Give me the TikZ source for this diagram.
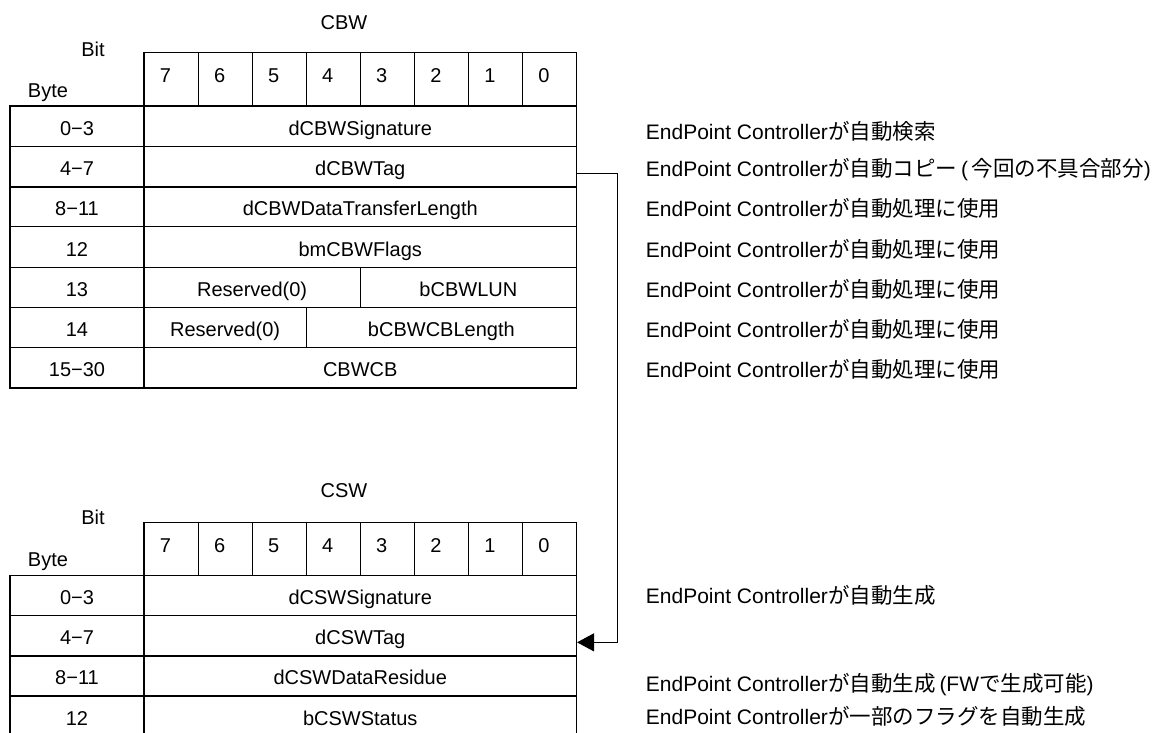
\documentclass[tikz,border=0pt]{standalone}
\usepackage{fontspec}
\setmainfont{Liberation Sans}
\newfontfamily\jpfont{Noto Sans CJK JP}
\newcommand\JPtxt[1]{{\jpfont\fontsize{21.5}{24}\selectfont #1}}
\usetikzlibrary{arrows.meta}
\begin{document}
\begin{tikzpicture}[x=1pt,y=-1pt,
  tcell/.style={draw, line width=1.1pt, inner sep=0pt, font=\fontsize{20}{24}\selectfont, text height=18pt, text depth=0pt},
  ttext/.style={inner sep=0pt, font=\fontsize{20}{24}\selectfont, text height=18pt, text depth=0pt},
  lbl/.style={anchor=west, inner sep=0pt, font=\fontsize{21}{24}\selectfont, text height=18pt, text depth=0pt},
  conn/.style={line width=1.1pt, -{Triangle[length=17pt,width=18pt]}},
  thickrule/.style={line width=2pt}]
\useasboundingbox (0,0) rectangle (1157,733);

% ---------------- CBW ----------------
\node[ttext] (cbwtitle) at (344,20.7) {CBW};
\node[ttext] (cbwbit) at (93,47.5) {Bit};
\node[ttext] (cbwbyte) at (48,88.2) {Byte};
\foreach \i/\n in {0/7,1/6,2/5,3/4,4/3,5/2,6/1,7/0}{
  \node[tcell, minimum width=54.0625pt, minimum height=53.3pt] (cbwh\i) at ({144+54.0625*(\i+0.5)},79.35) {};
  \node[ttext] (cbwn\i) at ({165.5+54.0625*\i},73.7) {\n};
}
% rows
\node[tcell, minimum width=134pt, minimum height=40.29pt] (cb0) at (77,126.14) {0−3};
\node[tcell, minimum width=432.5pt, minimum height=40.29pt] (cf0) at (360.25,126.14) {dCBWSignature};
\node[tcell, minimum width=134pt, minimum height=40.29pt] (cb1) at (77,166.43) {4−7};
\node[tcell, minimum width=432.5pt, minimum height=40.29pt] (cf1) at (360.25,166.43) {dCBWTag};
\node[tcell, minimum width=134pt, minimum height=40.29pt] (cb2) at (77,206.71) {8−11};
\node[tcell, minimum width=432.5pt, minimum height=40.29pt] (cf2) at (360.25,206.71) {dCBWDataTransferLength};
\node[tcell, minimum width=134pt, minimum height=40.29pt] (cb3) at (77,247) {12};
\node[tcell, minimum width=432.5pt, minimum height=40.29pt] (cf3) at (360.25,247) {bmCBWFlags};
\node[tcell, minimum width=134pt, minimum height=40.29pt] (cb4) at (77,287.29) {13};
\node[tcell, minimum width=216.25pt, minimum height=40.29pt] (cf4a) at (252.125,287.29) {Reserved(0)};
\node[tcell, minimum width=216.25pt, minimum height=40.29pt] (cf4b) at (468.375,287.29) {bCBWLUN};
\node[tcell, minimum width=134pt, minimum height=40.29pt] (cb5) at (77,327.57) {14};
\node[tcell, minimum width=162.19pt, minimum height=40.29pt] (cf5a) at (225.09,327.57) {Reserved(0)};
\node[tcell, minimum width=270.31pt, minimum height=40.29pt] (cf5b) at (441.345,327.57) {bCBWCBLength};
\node[tcell, minimum width=134pt, minimum height=40.29pt] (cb6) at (77,367.86) {15−30};
\node[tcell, minimum width=432.5pt, minimum height=40.29pt] (cf6) at (360.25,367.86) {CBWCB};
\draw[thickrule] (cb1.south west) -- (cf1.south east);

% ---------------- CSW ----------------
\node[ttext] (cswtitle) at (344,488.2) {CSW};
\node[ttext] (cswbit) at (93,515.5) {Bit};
\node[ttext] (cswbyte) at (48,557.5) {Byte};
\foreach \i/\n in {0/7,1/6,2/5,3/4,4/3,5/2,6/1,7/0}{
  \node[tcell, minimum width=54.0625pt, minimum height=53pt] (cswh\i) at ({144+54.0625*(\i+0.5)},549.2) {};
  \node[ttext] (cswn\i) at ({165.5+54.0625*\i},543.2) {\n};
}
\node[tcell, minimum width=134pt, minimum height=40.1pt] (sb0) at (77,595.75) {0−3};
\node[tcell, minimum width=432.5pt, minimum height=40.1pt] (sf0) at (360.25,595.75) {dCSWSignature};
\node[tcell, minimum width=134pt, minimum height=40.1pt] (sb1) at (77,635.85) {4−7};
\node[tcell, minimum width=432.5pt, minimum height=40.1pt] (sf1) at (360.25,635.85) {dCSWTag};
\node[tcell, minimum width=134pt, minimum height=40.1pt] (sb2) at (77,675.95) {8−11};
\node[tcell, minimum width=432.5pt, minimum height=40.1pt] (sf2) at (360.25,675.95) {dCSWDataResidue};
\node[tcell, minimum width=134pt, minimum height=40.1pt] (sb3) at (77,716.05) {12};
\node[tcell, minimum width=432.5pt, minimum height=40.1pt] (sf3) at (360.25,716.05) {bCSWStatus};
\draw[thickrule] (sb1.south west) -- (sf1.south east);

% ---------------- connector ----------------
\draw[conn] ([yshift=-6.9pt]cf1.east) -- ++(40.5,0) |- ([yshift=-6.5pt]sf1.east);

% ---------------- labels ----------------
\node[lbl] (l0) at (645.7,130.2) {EndPoint Controller\JPtxt{が自動検索}};
\node[lbl] (l1) at (645.7,167.8) {EndPoint Controller\JPtxt{が自動コピー}\hspace{4pt}(\hspace{4pt}\JPtxt{今回の不具合部分})};
\node[lbl] (l2) at (645.7,207.8) {EndPoint Controller\JPtxt{が自動処理に使用}};
\node[lbl] (l3) at (645.7,248.5) {EndPoint Controller\JPtxt{が自動処理に使用}};
\node[lbl] (l4) at (645.7,288.5) {EndPoint Controller\JPtxt{が自動処理に使用}};
\node[lbl] (l5) at (645.7,328.5) {EndPoint Controller\JPtxt{が自動処理に使用}};
\node[lbl] (l6) at (645.7,368.5) {EndPoint Controller\JPtxt{が自動処理に使用}};
\node[lbl] (m0) at (645.7,594.5) {EndPoint Controller\JPtxt{が自動生成}};
\node[lbl] (m1) at (645.7,682.8) {EndPoint Controller\JPtxt{が自動生成}\hspace{4pt}(FW\JPtxt{で生成可能})};
\node[lbl] (m2) at (645.7,715.2) {EndPoint Controller\JPtxt{が一部のフラグを自動生成}};
\end{tikzpicture}
\end{document}
